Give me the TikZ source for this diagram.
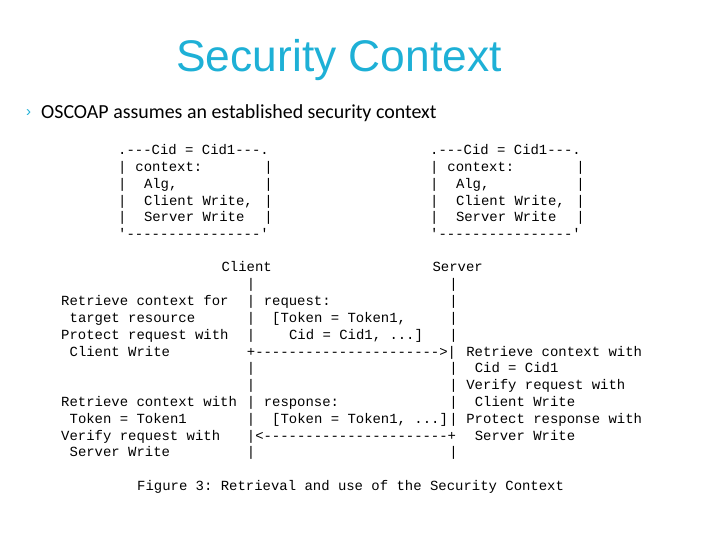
\documentclass[tikz,border=0pt]{standalone}
\usepackage{fontspec}
\setmainfont{Liberation Sans}
\setmonofont{Liberation Mono}
\newfontfamily\bodyfont{Carlito}
\definecolor{titlecyan}{RGB}{30,176,214}
\tikzset{
  ascii/.style={anchor=base west,inner sep=0pt,font=\fontsize{14}{16}\ttfamily},
}
% lower block cell: name, column, row, text
\newcommand{\low}[4]{\node[ascii] (#1) at ({61+8.44*#2},{272+16.8*#3}) {#4};}
% context box cell: name, left x, column, row, text
\newcommand{\ctx}[5]{\node[ascii] (#1) at ({#2+8.6*#3},{155+16.7*#4}) {#5};}

\begin{document}
\begin{tikzpicture}[x=1bp,y=-1bp]
  \useasboundingbox (0,0) rectangle (720,540);
  % title and bullet
  \node[font=\fontsize{44.5}{50}\selectfont,text=titlecyan] (title) at (339,60) {Security Context};
  \node[anchor=west,inner sep=0pt,font=\fontsize{15}{18}\selectfont,text=titlecyan] (bullet) at (26,113) {›};
  \node[anchor=west,inner sep=0pt,font=\bodyfont\fontsize{20}{24}\selectfont] (intro) at (41,113) {OSCOAP assumes an established security context};
  % the two context boxes
  \foreach \side/\bx in {l/118,r/430}{
    \ctx{\side top}{\bx}{0}{0}{.---Cid = Cid1---.}
    \ctx{\side ctx}{\bx}{2}{1}{context:}
    \ctx{\side alg}{\bx}{3}{2}{Alg,}
    \ctx{\side cw}{\bx}{3}{3}{Client Write,}
    \ctx{\side sw}{\bx}{3}{4}{Server Write}
    \foreach \r in {1,...,4}{
      \ctx{\side a\r}{\bx}{0}{\r}{|}
      \ctx{\side b\r}{\bx}{17}{\r}{|}
    }
    \ctx{\side bot}{\bx}{0}{5}{'----------------'}
  }
  % message exchange
  \low{client}{19}{0}{Client}
  \low{server}{44}{0}{Server}
  \foreach \r in {1,...,4,6,7,8,9,11}{
    \low{cbar\r}{22}{\r}{|}
  }
  \foreach \r in {1,...,4,6,7,8,9,11}{
    \low{sbar\r}{46}{\r}{|}
  }
  \low{c2}{0}{2}{Retrieve context for}
  \low{c3}{1}{3}{target resource}
  \low{c4}{0}{4}{Protect request with}
  \low{c5}{1}{5}{Client Write}
  \low{req}{24}{2}{request:}
  \low{reqa}{25}{3}{[Token = Token1,}
  \low{reqb}{27}{4}{Cid = Cid1, ...]}
  \low{arrreq}{22}{5}{+---------------------->|}
  \low{s5}{48}{5}{Retrieve context with}
  \low{s6}{49}{6}{Cid = Cid1}
  \low{s7}{48}{7}{Verify request with}
  \low{s8}{49}{8}{Client Write}
  \low{s9}{48}{9}{Protect response with}
  \low{s10}{49}{10}{Server Write}
  \low{c8}{0}{8}{Retrieve context with}
  \low{c9}{1}{9}{Token = Token1}
  \low{c10}{0}{10}{Verify request with}
  \low{c11}{1}{11}{Server Write}
  \low{resp}{24}{8}{response:}
  \low{respa}{25}{9}{[Token = Token1, ...]}
  \low{arrresp}{22}{10}{|<----------------------+}
  \low{caption}{9}{13}{Figure 3: Retrieval and use of the Security Context}
\end{tikzpicture}
\end{document}
